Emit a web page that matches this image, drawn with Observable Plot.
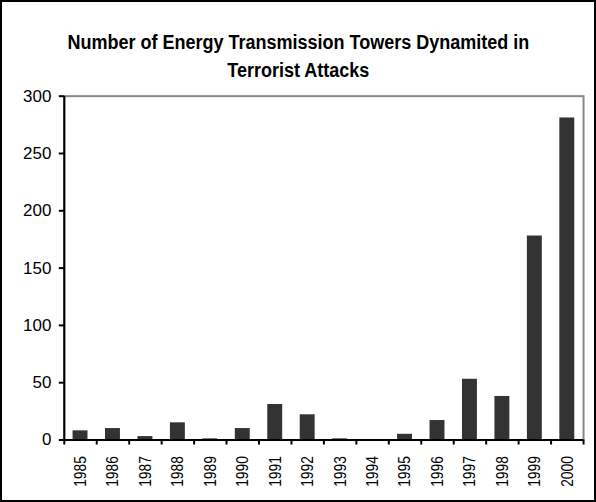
<!DOCTYPE html>
<html>
<head>
<meta charset="utf-8">
<script src="https://cdn.jsdelivr.net/npm/d3@7"></script>
<script src="https://cdn.jsdelivr.net/npm/@observablehq/plot@0.6"></script>
<style>
  html, body { margin: 0; padding: 0; background: #fff; }
  #frame { position: relative; width: 596px; height: 502px; box-sizing: border-box; border: 2px solid #000; background: #fff; overflow: hidden; }
  #title { position: absolute; left: 0; width: 592px; top: 26px; text-align: center;
    font-family: "Liberation Sans", Arial, sans-serif;
    font-weight: bold; font-size: 20px; line-height: 28px; color: #000;
    transform: scaleX(0.9); transform-origin: 299px 0; z-index: 2; }
  #chart { position: absolute; left: -2px; top: -2px; }
</style>
</head>
<body>
<div id="frame">
  <div id="title">Number of Energy Transmission Towers Dynamited in<br>Terrorist Attacks</div>
  <div id="chart"></div>
</div>
<script>
const years = [1985, 1986, 1987, 1988, 1989, 1990, 1991, 1992, 1993, 1994, 1995, 1996, 1997, 1998, 1999, 2000];
const towers = [8, 10, 3, 15, 1, 10, 31, 22, 1, 0, 5, 17, 53, 38, 178, 281];
const yTicks = [0, 50, 100, 150, 200, 250, 300];

const data = years.map((year, i) => ({year, value: towers[i]}));
const boundaries = years.map(y => y - 0.5).concat([years[years.length - 1] + 0.5]);
const halfBar = 0.23;

const chart = Plot.plot({
  width: 596,
  height: 502,
  marginLeft: 64,
  marginRight: 11,
  marginTop: 96,
  marginBottom: 61,
  style: {background: "transparent", color: "#000"},
  x: {type: "linear", domain: [years[0] - 0.5, years[years.length - 1] + 0.5]},
  y: {domain: [0, 300]},
  marks: [
    Plot.frame({stroke: "#888", strokeWidth: 2}),
    Plot.rectY(data, {x1: d => d.year - halfBar, x2: d => d.year + halfBar, y: "value", fill: "#333"}),
    Plot.ruleY([0], {stroke: "#000", strokeWidth: 2}),
    Plot.ruleX([years[0] - 0.5], {stroke: "#000", strokeWidth: 2}),
    Plot.axisY({ticks: yTicks, tickSize: 5, tickPadding: 8, strokeWidth: 2,
      fontSize: 17, fontFamily: "Liberation Sans, Arial, sans-serif", label: null, tickFormat: d => String(d)}),
    Plot.axisX({ticks: boundaries, tickSize: 5, strokeWidth: 2, tickFormat: () => "", label: null}),
    Plot.axisX({ticks: years, tickSize: 0, tickPadding: 16, tickRotate: -90,
      fontSize: 17, fontFamily: "Liberation Sans, Arial, sans-serif",
      label: null, tickFormat: d => String(d)})
  ]
});
// condense the rotated year labels (narrow face in the reference)
d3.select(chart).selectAll('g[aria-label="x-axis tick label"] text')
  .attr("textLength", 31).attr("lengthAdjust", "spacingAndGlyphs");
document.getElementById("chart").appendChild(chart);
</script>
</body>
</html>
